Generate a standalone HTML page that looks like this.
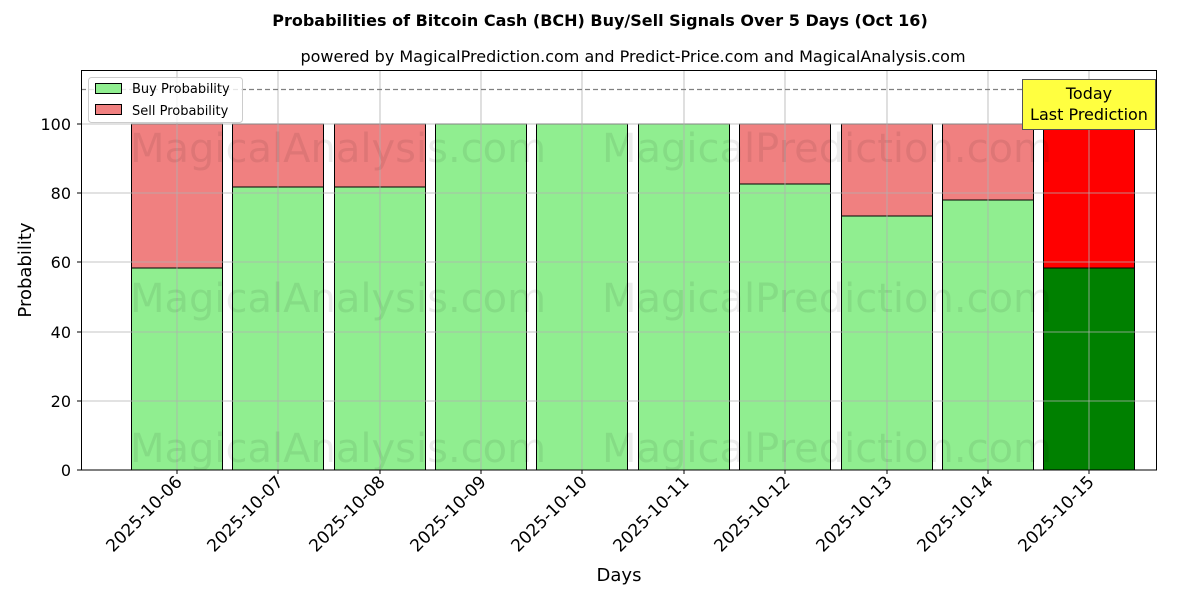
<!DOCTYPE html>
<html><head><meta charset="utf-8"><style>
body{margin:0;background:#fff;}
svg{display:block;font-family:"DejaVu Sans","Liberation Sans",sans-serif;}
</style></head><body>
<svg width="1200" height="600" viewBox="0 0 1200 600" xmlns="http://www.w3.org/2000/svg">
<rect width="1200" height="600" fill="#fff"/>
<text x="600" y="26" text-anchor="middle" font-size="16" font-weight="bold">Probabilities of Bitcoin Cash (BCH) Buy/Sell Signals Over 5 Days (Oct 16)</text>
<text x="633" y="62" text-anchor="middle" font-size="16">powered by MagicalPrediction.com and Predict-Price.com and MagicalAnalysis.com</text>
<g stroke="#000" stroke-width="1">
<rect x="131.5" y="268" width="91" height="202" fill="#90ee90"/><rect x="131.5" y="124" width="91" height="144" fill="#f08080"/>
<rect x="232.5" y="187" width="91" height="283" fill="#90ee90"/><rect x="232.5" y="124" width="91" height="63" fill="#f08080"/>
<rect x="334.5" y="187" width="91" height="283" fill="#90ee90"/><rect x="334.5" y="124" width="91" height="63" fill="#f08080"/>
<rect x="435.5" y="124" width="91" height="346" fill="#90ee90"/>
<rect x="536.5" y="124" width="91" height="346" fill="#90ee90"/>
<rect x="638.5" y="124" width="91" height="346" fill="#90ee90"/>
<rect x="739.5" y="184" width="91" height="286" fill="#90ee90"/><rect x="739.5" y="124" width="91" height="60" fill="#f08080"/>
<rect x="841.5" y="216" width="91" height="254" fill="#90ee90"/><rect x="841.5" y="124" width="91" height="92" fill="#f08080"/>
<rect x="942.5" y="200" width="91" height="270" fill="#90ee90"/><rect x="942.5" y="124" width="91" height="76" fill="#f08080"/>
<rect x="1043.5" y="268" width="91" height="202" fill="#008000"/><rect x="1043.5" y="124" width="91" height="144" fill="#ff0000"/>
</g>
<g stroke="#b0b0b0" stroke-width="0.8">
<line x1="81" y1="470" x2="1157" y2="470"/><line x1="81" y1="401" x2="1157" y2="401"/><line x1="81" y1="332" x2="1157" y2="332"/><line x1="81" y1="262" x2="1157" y2="262"/><line x1="81" y1="193" x2="1157" y2="193"/><line x1="81" y1="124" x2="1157" y2="124"/>
<line x1="177" y1="70" x2="177" y2="470"/><line x1="278" y1="70" x2="278" y2="470"/><line x1="380" y1="70" x2="380" y2="470"/><line x1="481" y1="70" x2="481" y2="470"/><line x1="582" y1="70" x2="582" y2="470"/><line x1="684" y1="70" x2="684" y2="470"/><line x1="785" y1="70" x2="785" y2="470"/><line x1="887" y1="70" x2="887" y2="470"/><line x1="988" y1="70" x2="988" y2="470"/><line x1="1089" y1="70" x2="1089" y2="470"/>
</g>
<g font-size="40" fill="#000" opacity="0.07">
<text x="130" y="162">MagicalAnalysis.com</text><text x="602" y="162">MagicalPrediction.com</text>
<text x="130" y="312">MagicalAnalysis.com</text><text x="602" y="312">MagicalPrediction.com</text>
<text x="130" y="462">MagicalAnalysis.com</text><text x="602" y="462">MagicalPrediction.com</text>
</g>
<line x1="81" y1="89.5" x2="1157" y2="89.5" stroke="#808080" stroke-width="1.2" stroke-dasharray="5,3"/>
<rect x="1022.5" y="79.5" width="133" height="50" fill="#ffff40" stroke="#555" stroke-width="1"/>
<text x="1089" y="99" text-anchor="middle" font-size="16">Today</text>
<text x="1089" y="120" text-anchor="middle" font-size="16">Last Prediction</text>
<rect x="81.5" y="70.5" width="1075" height="399.5" fill="none" stroke="#000" stroke-width="1"/>
<rect x="88.5" y="77.5" width="154" height="45" rx="3" fill="#fff" fill-opacity="0.8" stroke="#ccc"/>
<rect x="95.5" y="83.5" width="26" height="10" fill="#90ee90" stroke="#000"/>
<text x="132" y="93" font-size="13">Buy Probability</text>
<rect x="95.5" y="104.5" width="26" height="10" fill="#f08080" stroke="#000"/>
<text x="132" y="115" font-size="13">Sell Probability</text>
<g font-size="16" text-anchor="end">
<text x="71" y="476">0</text><text x="71" y="407">20</text><text x="71" y="338">40</text><text x="71" y="268">60</text><text x="71" y="199">80</text><text x="71" y="130">100</text>
</g>
<g stroke="#000"><line x1="77" y1="470" x2="81" y2="470"/><line x1="77" y1="401" x2="81" y2="401"/><line x1="77" y1="332" x2="81" y2="332"/><line x1="77" y1="262" x2="81" y2="262"/><line x1="77" y1="193" x2="81" y2="193"/><line x1="77" y1="124" x2="81" y2="124"/>
<line x1="177" y1="470" x2="177" y2="474"/><line x1="278" y1="470" x2="278" y2="474"/><line x1="380" y1="470" x2="380" y2="474"/><line x1="481" y1="470" x2="481" y2="474"/><line x1="582" y1="470" x2="582" y2="474"/><line x1="684" y1="470" x2="684" y2="474"/><line x1="785" y1="470" x2="785" y2="474"/><line x1="887" y1="470" x2="887" y2="474"/><line x1="988" y1="470" x2="988" y2="474"/><line x1="1089" y1="470" x2="1089" y2="474"/></g>
<g font-size="17" text-anchor="end">
<text transform="translate(183,483) rotate(-45)">2025-10-06</text>
<text transform="translate(284,483) rotate(-45)">2025-10-07</text>
<text transform="translate(386,483) rotate(-45)">2025-10-08</text>
<text transform="translate(487,483) rotate(-45)">2025-10-09</text>
<text transform="translate(588,483) rotate(-45)">2025-10-10</text>
<text transform="translate(690,483) rotate(-45)">2025-10-11</text>
<text transform="translate(791,483) rotate(-45)">2025-10-12</text>
<text transform="translate(893,483) rotate(-45)">2025-10-13</text>
<text transform="translate(994,483) rotate(-45)">2025-10-14</text>
<text transform="translate(1095,483) rotate(-45)">2025-10-15</text>
</g>
<text x="619" y="581" text-anchor="middle" font-size="18">Days</text>
<text transform="translate(31,270) rotate(-90)" text-anchor="middle" font-size="18">Probability</text>
</svg>
</body></html>
